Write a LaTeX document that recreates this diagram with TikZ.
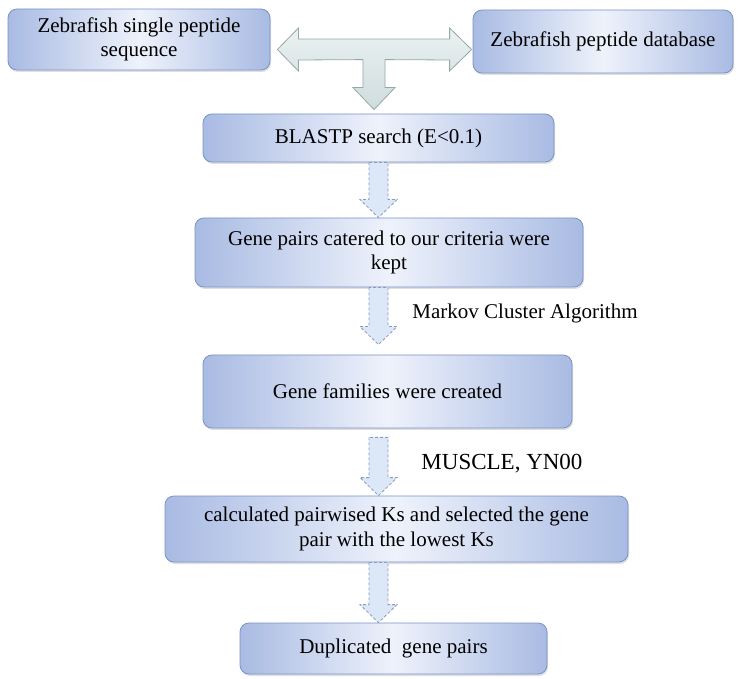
\documentclass[tikz,border=0pt]{standalone}
\usepackage{fontspec}
\setmainfont{Liberation Serif}
\usetikzlibrary{calc,shadows}
\definecolor{boxedge}{HTML}{A9BBE3}
\definecolor{boxmid}{HTML}{EEF2FB}
\definecolor{boxline}{HTML}{7A93C8}
\definecolor{arrowfill}{HTML}{DCE7F7}
\definecolor{arrowline}{HTML}{8A9CBA}
\definecolor{teetop}{HTML}{EAF1F1}
\definecolor{teebot}{HTML}{CFDCDD}
\definecolor{teeline}{HTML}{95A8A8}

\begin{document}
\begin{tikzpicture}[x=1pt,y=-1pt]

    \tikzset{
      BoxStyle/.style = { rectangle, rounded corners=9pt, draw=boxline,
                          line width=0.8pt, left color=boxedge, right color=boxedge,
                          middle color=boxmid, inner sep=0pt, align=center,
                          font = \fontsize{21}{24.5}\selectfont,
                          drop shadow={shadow xshift=1pt,shadow yshift=-2pt,opacity=0.25} },
      LabelStyle/.style = { font = \fontsize{21}{25}\selectfont },
      DashStyle/.style = { fill=arrowfill, draw=arrowline, line width=0.8pt,
                           dash pattern=on 3pt off 2pt },
      TeeStyle/.style = { top color=teetop, bottom color=teebot, draw=teeline,
                          line width=0.8pt } }
    \useasboundingbox (0,0) rectangle (740,679);

    \node[BoxStyle, minimum width=262pt, minimum height=61pt] (seq) at (139,39.5) {Zebrafish single peptide\\sequence};
    \node[BoxStyle, minimum width=260pt, minimum height=63pt] (db) at (603,41.5) {Zebrafish peptide database};
    \node[BoxStyle, minimum width=351pt, minimum height=48pt] (blast) at (378.5,138) {BLASTP search (E<0.1)};
    \node[BoxStyle, minimum width=388pt, minimum height=69pt] (pairs) at (389,252.5) {Gene pairs catered to our criteria were\\kept};
    \node[BoxStyle, minimum width=369pt, minimum height=73pt] (fam) at (387.5,391.5) {Gene families were created};
    \node[BoxStyle, minimum width=463pt, minimum height=66pt] (ks) at (396.5,529) {calculated pairwised Ks and selected the gene\\pair with the lowest Ks};
    \node[BoxStyle, minimum width=307pt, minimum height=51pt] (dup) at (393.5,648.5) {Duplicated\ \ gene pairs};

    \node[LabelStyle] (markov) at (525,313) {Markov Cluster Algorithm};
    \node[LabelStyle, font = \fontsize{23}{27}\selectfont] (muscle) at (502,464) {MUSCLE, YN00};

    % T shaped arrow
    \coordinate (tl) at ($(seq.east)+(7,10)$);
    \coordinate (tr) at ($(db.west)+(-1,8)$);
    \coordinate (tb) at ($(blast.north)+(-4.5,-4)$);
    \draw[TeeStyle] (tl) -- ($(tl)+(21,-21.5)$) -- ($(tl)+(21,-10.5)$)
      -- ($(tr)+(-22,-10.5)$) -- ($(tr)+(-22,-21.5)$) -- (tr)
      -- ($(tr)+(-22,21.5)$) -- ($(tr)+(-22,10.5)$)
      -- ($(tb)+(11,-50)$) -- ($(tb)+(11,-22)$) -- ($(tb)+(21,-22)$) -- (tb)
      -- ($(tb)+(-21,-22)$) -- ($(tb)+(-11,-22)$) -- ($(tb)+(-11,-50)$)
      -- ($(tl)+(21,10.5)$) -- ($(tl)+(21,21.5)$) -- cycle;

    % dashed block arrows
    \coordinate (a1) at (blast.south);
    \coordinate (b1) at (pairs.north -| blast.south);
    \coordinate (a2) at (pairs.south -| blast.south);
    \coordinate (b2) at ($(fam.north -| blast.south)+(0,-10)$);
    \coordinate (a3) at ($(fam.south -| blast.south)+(0,9)$);
    \coordinate (b3) at (ks.north -| blast.south);
    \coordinate (a4) at (ks.south -| blast.south);
    \coordinate (b4) at (dup.north -| blast.south);
    \foreach \a/\b in {a1/b1,a2/b2,a3/b3,a4/b4}
      \draw[DashStyle] ($(\a)+(-9.5,0)$) -- ($(\b)+(-9.5,-18)$) -- ($(\b)+(-18.5,-18)$)
        -- (\b) -- ($(\b)+(18.5,-18)$) -- ($(\b)+(9.5,-18)$) -- ($(\a)+(9.5,0)$) -- cycle;

\end{tikzpicture}
\end{document}
